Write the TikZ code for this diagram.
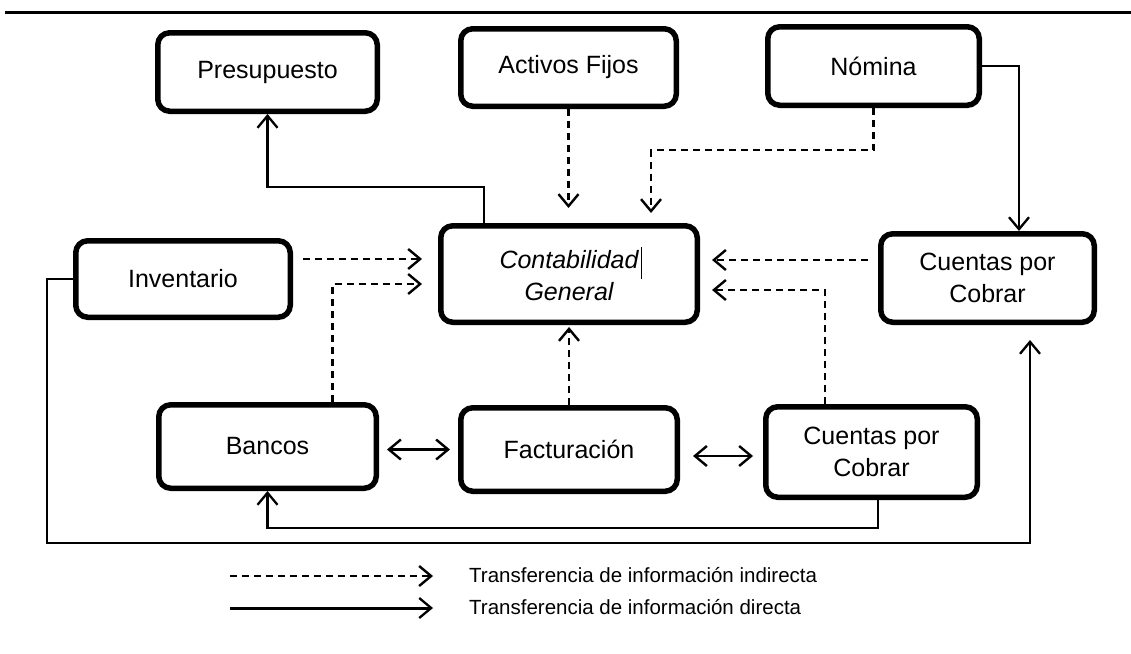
\documentclass[tikz,border=0pt]{standalone}
\usepackage{fontspec}
\setmainfont{Liberation Sans}
\usetikzlibrary{arrows.meta}

\tikzset{
  module/.style={draw=black, line width=5.5pt, rounded corners=12pt, align=center,
    font=\fontsize{25}{32}\selectfont, inner sep=0pt},
  barb/.style={Straight Barb[length=12pt,width=20pt,line width=2.3pt]},
  direct/.style={line width=2.2pt, -{Straight Barb[length=12pt,width=20pt,line width=2.3pt]}},
  twoway/.style={line width=2.4pt, {Straight Barb[length=12pt,width=20pt,line width=2.4pt]}-{Straight Barb[length=12pt,width=20pt,line width=2.4pt]}},
  indirect/.style={line width=2.8pt, dash pattern=on 7pt off 5pt,
    -{Straight Barb[length=12pt,width=20pt,line width=2.4pt]}},
  legendtext/.style={anchor=west, inner sep=0pt, font=\fontsize{20.5}{24}\selectfont}
}

\begin{document}
\begin{tikzpicture}[x=1pt, y=-1pt]
  \useasboundingbox (0,0) rectangle (1131,653);

  % rule across the top
  \draw[line width=3pt] (5,12) -- (1131,12);

  % modules
  \node[module, minimum width=219.5pt, minimum height=78.5pt] (pres) at (267.5,72) {Presupuesto};
  \node[module, minimum width=215.5pt, minimum height=77.5pt] (act)  at (568.5,67.5) {Activos Fijos};
  \node[module, minimum width=211.5pt, minimum height=78.5pt] (nom)  at (873.5,66) {Nómina};
  \node[module, minimum width=214.5pt, minimum height=76.5pt] (inv)  at (183,279) {Inventario};
  \node[module, minimum width=256.5pt, minimum height=96.5pt] (cont) at (569,274)
    {\itshape Contabilidad\rlap{\hspace{2pt}\rule[-10pt]{0.9pt}{32pt}}\\ \itshape General};
  \node[module, minimum width=213.5pt, minimum height=88.5pt] (cxcA) at (987.5,278) {Cuentas por\\Cobrar};
  \node[module, minimum width=217.5pt, minimum height=83.5pt] (ban)  at (267.5,446.5) {Bancos};
  \node[module, minimum width=216.5pt, minimum height=83.5pt] (fac)  at (569,449.5) {Facturación};
  \node[module, minimum width=211.5pt, minimum height=90.5pt] (cxcB) at (871.5,452) {Cuentas por\\Cobrar};

  % direct transfers
  \draw[direct] ([xshift=-85pt]cont.north) -- ++(0,-36) -| (pres.south);
  \draw[direct] (nom.east) -| ([xshift=31.5pt]cxcA.north);
  \draw[direct] ([xshift=6.5pt]cxcB.south) -- ++(0,28) -| (ban.south);
  \coordinate (loopcorner) at (47,543);
  \draw[direct, shorten >=15pt] (inv.west) -| (loopcorner) -| ([xshift=42.5pt]cxcA.south);

  % two-way links on the bottom row
  \draw[twoway, shorten <=8pt, shorten >=8pt]
    ([yshift=-3pt]ban.east) -- ([yshift=-3pt]ban.east -| fac.west);
  \draw[twoway, shorten <=13pt, shorten >=10pt]
    ([yshift=-6.5pt]fac.east) -- ([yshift=-6.5pt]fac.east -| cxcB.west);

  % indirect transfers into the general ledger
  \draw[indirect, shorten >=15pt] (act.south) -- (act.south |- cont.north);
  \draw[indirect, shorten >=10pt] (nom.south) -- ++(0,42) -| ([xshift=82pt]cont.north);
  \draw[indirect, shorten <=10pt, shorten >=16pt]
    ([yshift=20pt]inv.east) -- ([yshift=20pt]inv.east -| cont.west);
  \draw[indirect, shorten >=16pt] ([xshift=65pt]ban.north) |- ([yshift=-10pt]cont.west);
  \draw[indirect, shorten >=2pt] (fac.north) -- (cont.south);
  \draw[indirect, shorten <=10pt, shorten >=12pt]
    ([yshift=18pt]cxcA.west) -- ([yshift=18pt]cxcA.west -| cont.east);
  \draw[indirect, shorten >=12pt] ([xshift=-46.5pt]cxcB.north) |- ([yshift=-16pt]cont.east);

  % legend
  \node[legendtext] (lgind) at (469,575) {Transferencia de información indirecta};
  \node[legendtext] (lgdir) at (469,607) {Transferencia de información directa};
  \draw[indirect] ([xshift=-239pt,yshift=-1pt]lgind.west) -- ([xshift=-36pt,yshift=-1pt]lgind.west);
  \draw[direct, line width=3pt] ([xshift=-239pt,yshift=-1pt]lgdir.west) -- ([xshift=-36pt,yshift=-1pt]lgdir.west);
\end{tikzpicture}
\end{document}
